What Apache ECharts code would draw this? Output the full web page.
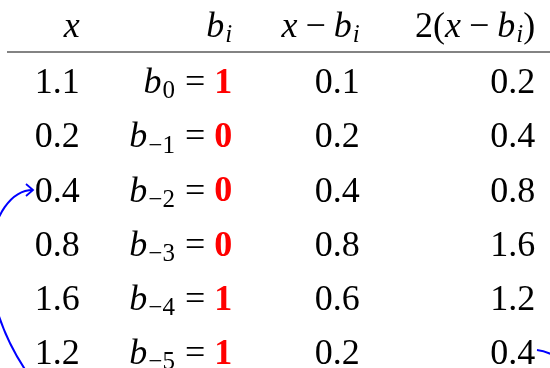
<!DOCTYPE html>
<html>
<head>
<meta charset="utf-8">
<script src="https://cdn.jsdelivr.net/npm/echarts@6/dist/echarts.min.js"></script>
<style>
html,body{margin:0;padding:0;background:#fff;}
#main{width:550px;height:368px;}
</style>
</head>
<body>
<div id="main"></div>
<script>
// table values
var xVals = [1.1, 0.2, 0.4, 0.8, 1.6, 1.2];
var bSub = ['0', '−1', '−2', '−3', '−4', '−5'];
var bVals = [1, 0, 0, 0, 1, 1];
var diffVals = [0.1, 0.2, 0.4, 0.8, 0.6, 0.2];
var dblVals = [0.2, 0.4, 0.8, 1.6, 1.2, 0.4];
var columns = ['x', 'b', 'x-b', '2(x-b)'];

// layout: shift of each column's right edge from its band centre
var colShift = [11, 26, 16, 54];

var chart = echarts.init(document.getElementById('main'));

var headText = [
  '{i|x}',
  '{i|b}{si|i}',
  '{i|x}{op|−}{i|b}{si|i}',
  '{r|2(}{i|x}{op|−}{i|b}{si|i}{r|)}'
];

var cells = [];
columns.forEach(function (c, ci) {
  cells.push({value: [ci, 0], txt: headText[ci]});
});
xVals.forEach(function (v, ri) {
  cells.push({value: [0, ri + 1], txt: '{r|' + v.toFixed(1) + '}'});
  cells.push({value: [1, ri + 1], txt: '{i|b}{s|' + bSub[ri] + '}{eq|=}{red|' + bVals[ri] + '}'});
  cells.push({value: [2, ri + 1], txt: '{r|' + diffVals[ri].toFixed(1) + '}'});
  cells.push({value: [3, ri + 1], txt: '{r|' + dblVals[ri].toFixed(1) + '}'});
});

var ff = 'Liberation Serif';
var pieces = {
  r: {size: 36, style: 'normal', weight: 'normal', fill: '#000', dy: 0, pl: 0, pr: 0},
  i: {size: 36, style: 'italic', weight: 'normal', fill: '#000', dy: 0, pl: 0, pr: 0},
  op: {size: 36, style: 'normal', weight: 'normal', fill: '#000', dy: 0, pl: 8, pr: 8},
  eq: {size: 36, style: 'normal', weight: 'normal', fill: '#000', dy: 0, pl: 10, pr: 9},
  s: {size: 25, style: 'normal', weight: 'normal', fill: '#000', dy: 8, pl: 1, pr: 0},
  si: {size: 25, style: 'italic', weight: 'normal', fill: '#000', dy: 8, pl: 1, pr: 0},
  red: {size: 36, style: 'normal', weight: 'bold', fill: '#ff0000', dy: 0, pl: 0, pr: 0}
};

var ctx = document.createElement('canvas').getContext('2d');
function measure(t, p) {
  ctx.font = p.style + ' ' + p.weight + ' ' + p.size + 'px "' + ff + '"';
  return ctx.measureText(t).width;
}
function parse(txt) {
  var out = [], re = /\{(\w+)\|([^}]*)\}/g, m;
  while ((m = re.exec(txt))) out.push({k: m[1], t: m[2]});
  return out;
}

chart.setOption({
  animation: false,
  grid: {left: 0, right: 0, top: 0, bottom: 0},
  xAxis: {type: 'category', data: columns, show: false},
  yAxis: {type: 'value', inverse: true, min: -0.55, max: 6.25, show: false},
  series: [{type: 'scatter', symbolSize: 0, data: cells.map(function (d) { return d.value; }), silent: true}]
});

// text of every cell, placed through the axes
var graphics = [];
cells.forEach(function (cell) {
  var c = cell.value[0], r = cell.value[1];
  var pt = chart.convertToPixel({gridIndex: 0}, cell.value);
  var x = pt[0] + colShift[c];
  var y = pt[1] + (r === 0 ? -2 : 0);
  var segs = parse(cell.txt);
  for (var k = segs.length - 1; k >= 0; k--) {
    var p = pieces[segs[k].k];
    x -= p.pr;
    x -= measure(segs[k].t, p);
    graphics.push({
      type: 'text', x: x, y: y + p.dy, silent: true,
      style: {
        text: segs[k].t, fontFamily: ff, fontSize: p.size,
        fontStyle: p.style, fontWeight: p.weight, fill: p.fill,
        align: 'left', verticalAlign: 'middle'
      }
    });
    x -= p.pl;
  }
});

// rule under the header and the blue arrows
var ruleY = 52;
graphics.push(
  {type: 'line', shape: {x1: 7, y1: ruleY, x2: 550, y2: ruleY},
    style: {stroke: '#5a5a5a', lineWidth: 1.6}},
  {type: 'bezierCurve',
    shape: {x1: 40, y1: 390, cpx1: -40, cpy1: 290, cpx2: -10, cpy2: 190, x2: 33, y2: 190},
    style: {stroke: '#0000ff', lineWidth: 2, fill: null}},
  {type: 'polyline', shape: {points: [[26, 184], [33, 190], [26, 196]]},
    style: {stroke: '#0000ff', lineWidth: 1.8, fill: null}},
  {type: 'bezierCurve',
    shape: {x1: 537, y1: 350, cpx1: 555, cpy1: 352, cpx2: 580, cpy2: 370, x2: 600, y2: 400},
    style: {stroke: '#0000ff', lineWidth: 2, fill: null}}
);
chart.setOption({graphic: graphics});
</script>
</body>
</html>
